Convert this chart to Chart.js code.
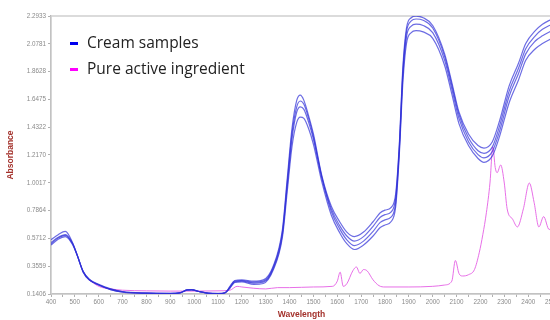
<!DOCTYPE html>
<html>
<head>
<meta charset="utf-8">
<script src="https://cdn.jsdelivr.net/npm/chart.js@4/dist/chart.umd.min.js"></script>
<style>
  html, body { margin: 0; padding: 0; background: #fff; overflow: hidden; }
  #wrap { position: relative; width: 560px; height: 320px; }
  #legend { position: absolute; left: 70px; top: 29px; font-family: "Open Sans", sans-serif; font-size: 15.5px; color: #222; }
  .item { height: 26px; line-height: 26px; white-space: nowrap; }
  .swatch { display: inline-block; width: 8px; height: 3px; vertical-align: middle; margin-right: 9px; }
</style>
</head>
<body>
<div id="wrap">
  <canvas id="nir-chart" width="560" height="320"></canvas>
  <div id="legend"></div>
</div>
<script>
/* Spectra (wavelength in nm, absorbance) */
let wavelengths = [400, 430, 460, 490, 510, 535, 560, 600, 650, 700, 800, 900, 940, 970, 990, 1020, 1060, 1100, 1130, 1150,
    1170, 1200, 1250, 1290, 1330, 1370, 1390, 1410, 1430, 1445, 1460, 1480, 1500, 1535, 1575, 1610, 1640, 1672, 1710, 1750,
    1780, 1800, 1825, 1845, 1860, 1875, 1890, 1910, 1930, 1960, 2000, 2050, 2080, 2110, 2150, 2190, 2215, 2250, 2280, 2320,
    2360, 2390, 2430, 2460, 2500]

let creamA = [0.56, 0.60, 0.625, 0.54, 0.44, 0.31, 0.25, 0.21, 0.175, 0.155, 0.145, 0.143, 0.148, 0.172, 0.175, 0.16, 0.145, 0.142, 0.15, 0.20,
    0.245, 0.25, 0.24, 0.25, 0.35, 0.64, 1.03, 1.42, 1.64, 1.68, 1.64, 1.52, 1.38, 1.06, 0.82, 0.70, 0.62, 0.585, 0.62, 0.70,
    0.77, 0.79, 0.81, 0.92, 1.30, 1.90, 2.20, 2.28, 2.293, 2.28, 2.22, 2.00, 1.78, 1.55, 1.38, 1.29, 1.27, 1.32, 1.48, 1.75,
    1.93, 2.08, 2.18, 2.23, 2.27]
let creamB = [0.54, 0.58, 0.60, 0.535, 0.44, 0.31, 0.25, 0.21, 0.175, 0.156, 0.146, 0.144, 0.149, 0.172, 0.174, 0.16, 0.146, 0.143, 0.15, 0.195,
    0.24, 0.245, 0.232, 0.24, 0.34, 0.62, 1.00, 1.38, 1.59, 1.635, 1.61, 1.50, 1.36, 1.05, 0.80, 0.67, 0.59, 0.55, 0.585, 0.665,
    0.735, 0.755, 0.775, 0.89, 1.28, 1.87, 2.17, 2.255, 2.27, 2.26, 2.20, 1.98, 1.76, 1.53, 1.35, 1.25, 1.23, 1.28, 1.44, 1.71,
    1.89, 2.04, 2.14, 2.19, 2.23]
let creamC = [0.53, 0.575, 0.595, 0.53, 0.44, 0.315, 0.255, 0.212, 0.178, 0.158, 0.147, 0.145, 0.15, 0.172, 0.173, 0.16, 0.147, 0.144, 0.15, 0.19,
    0.235, 0.24, 0.225, 0.232, 0.33, 0.60, 0.97, 1.34, 1.55, 1.59, 1.57, 1.47, 1.34, 1.04, 0.78, 0.645, 0.56, 0.515, 0.55, 0.625,
    0.695, 0.715, 0.735, 0.85, 1.25, 1.83, 2.13, 2.215, 2.23, 2.22, 2.165, 1.95, 1.73, 1.50, 1.32, 1.22, 1.195, 1.245, 1.40, 1.67,
    1.85, 2.00, 2.10, 2.14, 2.18]
let creamD = [0.52, 0.565, 0.585, 0.525, 0.44, 0.315, 0.255, 0.215, 0.18, 0.16, 0.149, 0.146, 0.151, 0.17, 0.172, 0.16, 0.148, 0.145, 0.15, 0.185,
    0.23, 0.235, 0.215, 0.222, 0.32, 0.58, 0.93, 1.28, 1.47, 1.51, 1.50, 1.42, 1.30, 1.01, 0.75, 0.615, 0.53, 0.485, 0.52, 0.59,
    0.655, 0.675, 0.70, 0.82, 1.22, 1.78, 2.08, 2.165, 2.18, 2.17, 2.12, 1.91, 1.69, 1.46, 1.29, 1.19, 1.16, 1.21, 1.36, 1.62,
    1.80, 1.95, 2.04, 2.08, 2.12]

let activeWavelengths = [560, 600, 650, 700, 800, 900, 1000, 1100, 1150, 1180, 1200, 1250, 1300, 1350, 1400, 1500, 1580, 1600, 1612, 1625,
    1640, 1665, 1680, 1695, 1710, 1725, 1750, 1775, 1800, 1900, 2000, 2050, 2080, 2095, 2110, 2125, 2150, 2175, 2195, 2210,
    2225, 2240, 2252, 2262, 2270, 2285, 2300, 2312, 2335, 2355, 2380, 2405, 2425, 2445, 2465, 2488, 2500]
let activeValues = [0.25, 0.20, 0.18, 0.17, 0.165, 0.163, 0.163, 0.165, 0.17, 0.20, 0.195, 0.185, 0.18, 0.19, 0.19, 0.195, 0.20, 0.24, 0.31, 0.20,
    0.22, 0.32, 0.35, 0.30, 0.33, 0.32, 0.25, 0.205, 0.195, 0.195, 0.20, 0.21, 0.24, 0.40, 0.30, 0.28, 0.29, 0.33, 0.46, 0.60,
    0.77, 1.00, 1.28, 1.12, 1.08, 1.14, 1.00, 0.80, 0.72, 0.66, 0.80, 1.00, 0.85, 0.66, 0.74, 0.64, 0.65]

let yTicks = [0.1406, 0.3559, 0.5712, 0.7864, 1.0017, 1.2170, 1.4322, 1.6475, 1.8628, 2.0781, 2.2933]

let legendLabels = ['Cream samples', 'Pure active ingredient']
let legendColors = ['#0000ee', '#ff00ff']

let creamColor = 'rgba(45, 45, 215, 0.7)'
let activeColor = 'rgba(228, 95, 228, 0.9)'

function toPoints(xs, ys) {
    return xs.map(function (x, i) { return { x: x, y: ys[i] } })
}

let creamSeries = [creamA, creamB, creamC, creamD]
let datasets = creamSeries.map(function (values) {
    return { label: legendLabels[0], data: toPoints(wavelengths, values), borderColor: creamColor, borderWidth: 1.2 }
})
datasets.push({ label: legendLabels[1], data: toPoints(activeWavelengths, activeValues), borderColor: activeColor, borderWidth: 1 })

// light frame round the plot area (left and bottom axes draw over it)
let frame = {
    id: 'frame',
    beforeDatasetsDraw: function (chart) {
        let a = chart.chartArea
        let c = chart.ctx
        c.save()
        c.strokeStyle = '#cfcfcf'
        c.lineWidth = 1.5
        c.strokeRect(a.left, a.top, a.right - a.left, a.bottom - a.top)
        c.restore()
    }
}

let tickFont = { family: 'Arial, "Liberation Sans", sans-serif', size: 6.3 }
let titleFont = { family: 'Arial, "Liberation Sans", sans-serif', size: 8.5, weight: 'bold' }

let ctx = document.querySelector('#nir-chart').getContext('2d')
let spectraChart = new Chart(ctx, {
    type: 'line',
    data: { datasets: datasets },
    options: {
        responsive: false,
        animation: false,
        layout: { padding: { top: 16, right: 8, left: 0, bottom: 0 } },
        plugins: { legend: { display: false }, tooltip: { enabled: false } },
        elements: { point: { radius: 0 }, line: { cubicInterpolationMode: 'monotone' } },
        scales: {
            x: {
                type: 'linear', min: 400, max: 2500,
                ticks: {
                    stepSize: 50, autoSkip: false, maxRotation: 0, font: tickFont, color: '#8a8a8a', padding: 1,
                    callback: function (v) { return v % 100 === 0 ? v : '' }
                },
                grid: { drawOnChartArea: false, tickLength: 3, color: '#b0b0b0' },
                border: { color: '#9a9a9a', width: 1.2 },
                title: { display: true, text: 'Wavelength', color: '#a3312b', font: titleFont, padding: 0 },
                afterFit: function (s) { s.height = 26 }
            },
            y: {
                type: 'linear', min: 0.1406, max: 2.2933,
                afterBuildTicks: function (s) { s.ticks = yTicks.map(function (v) { return { value: v } }) },
                ticks: { font: tickFont, color: '#8a8a8a', padding: 2, callback: function (v) { return v.toFixed(4) } },
                grid: { drawOnChartArea: false, tickLength: 3, color: '#b0b0b0' },
                border: { color: '#9a9a9a', width: 1.2 },
                title: { display: true, text: 'Absorbance', color: '#a3312b', font: titleFont, padding: { top: 6 } },
                afterFit: function (s) { s.width = 51 }
            }
        }
    },
    plugins: [frame]
})

// legend drawn as html over the plot
let legendBox = document.querySelector('#legend')
legendLabels.forEach(function (name, i) {
    let row = document.createElement('div')
    row.className = 'item'
    let swatch = document.createElement('span')
    swatch.className = 'swatch'
    swatch.style.background = legendColors[i]
    row.appendChild(swatch)
    row.appendChild(document.createTextNode(name))
    legendBox.appendChild(row)
})
</script>
</body>
</html>
